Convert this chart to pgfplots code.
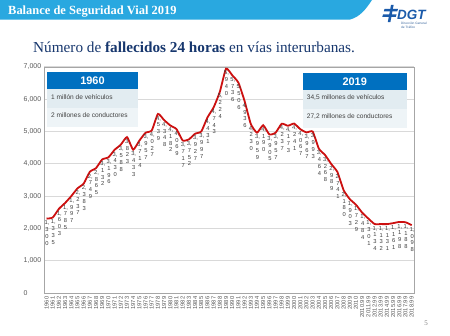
\documentclass[border=0pt]{standalone}
\usepackage{pgfplots}
\usepackage{pgfplotstable}
\pgfplotsset{compat=1.18}
\usepackage{fontspec}
\setmainfont{Liberation Serif}
\newfontfamily\arial{Liberation Sans}
\definecolor{linered}{RGB}{204,16,16}
\definecolor{hdrblue}{RGB}{0,112,192}
\definecolor{banner}{RGB}{41,168,224}
\definecolor{titleblue}{RGB}{23,55,110}
\definecolor{rowa}{RGB}{226,236,241}
\definecolor{rowb}{RGB}{238,244,247}
\definecolor{ticktext}{RGB}{89,89,89}
\definecolor{labtext}{RGB}{64,64,64}
\definecolor{gridc}{RGB}{217,217,217}
\definecolor{framec}{RGB}{166,166,166}
\definecolor{dgtblue}{RGB}{26,90,170}
\def\vlab#1#2#3#4{#1,\\#2\\#3\\#4}
\pgfplotstableread{
year val lab
1960 2300 1300
1961 2335 1335
1962 2603 1603
1963 2785 1785
1964 2997 1997
1965 3237 2237
1966 3383 2383
1967 3749 2749
1968 3865 2865
1969 4132 3132
1970 4196 3196
1971 4430 3430
1972 4588 3588
1973 4823 3823
1974 4433 3433
1975 4714 3714
1976 4957 3957
1977 5027 4027
1978 5539 4539
1979 5348 4348
1980 5182 4182
1981 5069 4069
1982 4717 3717
1983 4752 3752
1984 4927 3927
1985 4997 3997
1986 5431 4431
1987 5743 4743
1988 6224 5224
1989 6940 5940
1990 6736 5736
1991 6506 5506
1992 5936 4936
1993 5230 4230
1994 4959 3959
1995 5190 4190
1996 4905 3905
1997 4957 3957
1998 5237 4237
1999 5173 4173
2000 5241 4241
2001 5067 4067
2002 4967 3967
2003 4993 3993
2004 4464 3464
2005 4268 3268
2006 3989 2989
2007 3741 2741
2008 3180 2180
2009 2903 1903
2010 2729 1729
2011 2484 1484
2012 2301 1301
2013 2134 1134
2014 2132 1132
2015 2131 1131
2016 2161 1161
2017 2198 1198
2018 2188 1188
2019 2098 1098
}\datatable
\begin{document}
\begin{tikzpicture}[x=1bp,y=1bp]
\useasboundingbox (0,0) rectangle (450,335);
\fill[white] (0,0) rectangle (450,335);
% banner
\fill[banner] (0,335) -- (372,335) .. controls (366,326) and (360,318) .. (350,315.5) -- (0,315.5) -- cycle;
\node[anchor=base west, text=white, font=\fontsize{12.5}{14}\selectfont\bfseries, inner sep=0] at (8,321) {Balance de Seguridad Vial 2019};
% DGT logo
\fill[dgtblue] (384.5,326) -- (398,326) -- (397.3,323.6) -- (383.8,323.6) -- cycle;
\fill[dgtblue] (383,320.5) -- (396.5,320.5) -- (395.8,318.1) -- (382.3,318.1) -- cycle;
\fill[dgtblue] (391,330) -- (393.6,330) -- (390.4,313) -- (387.8,313) -- cycle;
\node[anchor=base west, text=dgtblue, font=\fontsize{13.5}{14}\selectfont\arial\bfseries\itshape, inner sep=0] at (397,316) {DGT};
\node[anchor=north west, text=dgtblue!70!gray, font=\fontsize{3.2}{3.8}\selectfont\arial, align=left, inner sep=0] at (401,313) {Dirección General\\de Tráfico};
% title
\node[anchor=base west, text=titleblue, font=\fontsize{15.3}{17}\selectfont, inner sep=0] at (33,282.5) {Número de \textbf{fallecidos 24 horas} en vías interurbanas.};
% page number
\node[anchor=base, text=gray, font=\fontsize{7}{8}\selectfont, inner sep=0] at (426,10) {5};
\begin{axis}[
  at={(44.3bp,42bp)}, anchor=south west, scale only axis,
  width=369.7bp, height=226.3bp,
  xmin=1959.64, xmax=2019.37, ymin=0, ymax=7000,
  axis line style={draw=framec},
  tick style={draw=none},
  ytick={0,1000,...,7000},
  xtick={1960,...,2019},
  ymajorgrids, grid style={draw=gridc, line width=0.6bp},
  /pgf/number format/assume math mode=true,
  yticklabel style={font=\fontsize{7}{8}\selectfont\arial, text=ticktext, anchor=west, inner sep=0pt, /pgf/number format/1000 sep={,}},
  yticklabel shift=20.8bp,
  xticklabel style={font=\fontsize{5.8}{7}\selectfont\arial, text=ticktext, rotate=90, anchor=east, inner sep=0pt, /pgf/number format/1000 sep={}},
  xticklabel shift=3.5bp,
  clip=false,
]
\addplot[linered, line width=1.8bp, smooth, tension=0.3, mark=none] table[x=year, y=val] {\datatable};
\addplot[draw=none, mark=none, point meta=explicit symbolic,
  nodes near coords={\expandafter\vlab\pgfplotspointmeta},
  every node near coord/.append style={font=\fontsize{5.8}{6.8}\selectfont\arial, text=labtext, align=center, anchor=north, inner sep=0pt, yshift=-2bp, xshift=0.5bp}]
  table[x=year, y=val, meta=lab] {\datatable};
\end{axis}
% boxes
\fill[hdrblue] (46.7,245.7) rectangle (138.3,263.3);
\fill[rowa] (46.7,227.3) rectangle (138.3,245.7);
\fill[rowb] (46.7,208.3) rectangle (138.3,227.3);
\node[text=white, font=\fontsize{11}{12}\selectfont\arial\bfseries, inner sep=0] at (92.5,254.5) {1960};
\node[anchor=west, font=\fontsize{6.6}{8}\selectfont\arial, text=labtext, inner sep=0] at (51,238) {1 millón de vehículos};
\node[anchor=west, font=\fontsize{6.6}{8}\selectfont\arial, text=labtext, inner sep=0] at (51,219.7) {2 millones de conductores};
\fill[hdrblue] (302.7,245) rectangle (406.7,261.7);
\fill[rowa] (302.7,226.5) rectangle (406.7,245);
\fill[rowb] (302.7,207.3) rectangle (406.7,226.5);
\node[text=white, font=\fontsize{11}{12}\selectfont\arial\bfseries, inner sep=0] at (354.7,253.4) {2019};
\node[anchor=west, font=\fontsize{6.6}{8}\selectfont\arial, text=labtext, inner sep=0] at (306.7,237.3) {34,5 millones de vehículos};
\node[anchor=west, font=\fontsize{6.6}{8}\selectfont\arial, text=labtext, inner sep=0] at (306.7,218.3) {27,2 millones de conductores};
\end{tikzpicture}
\end{document}
